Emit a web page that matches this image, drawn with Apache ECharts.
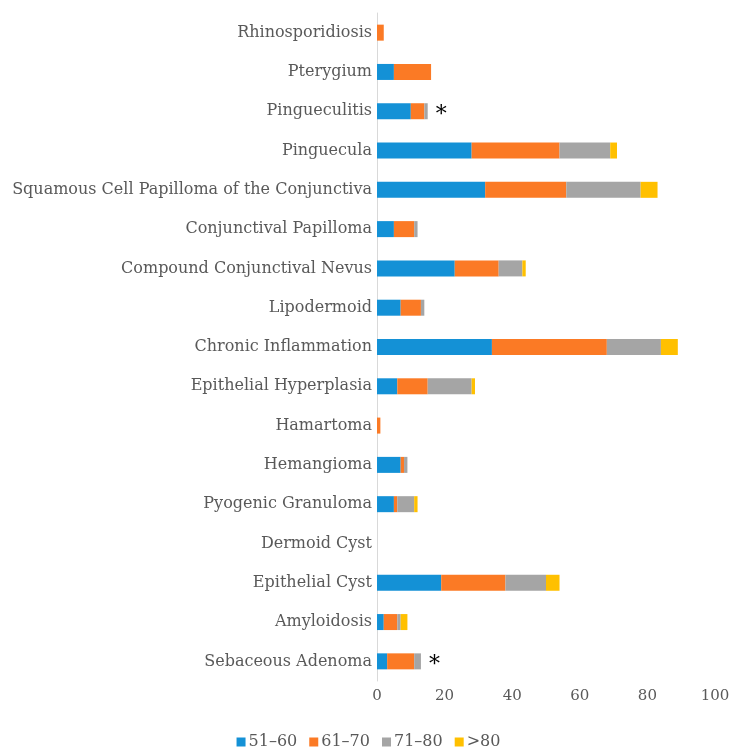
<!DOCTYPE html>
<html>
<head>
<meta charset="utf-8">
<script src="https://cdn.jsdelivr.net/npm/echarts@6/dist/echarts.min.js"></script>
<style>
  html, body { margin: 0; padding: 0; background: #ffffff; }
  #chart { width: 737px; height: 753px; }
</style>
</head>
<body>
<div id="chart"></div>
<script>
// Lesion types, listed top to bottom
const categories = [
  'Rhinosporidiosis',
  'Pterygium',
  'Pingueculitis',
  'Pinguecula',
  'Squamous Cell Papilloma of the Conjunctiva',
  'Conjunctival Papilloma',
  'Compound Conjunctival Nevus',
  'Lipodermoid',
  'Chronic Inflammation',
  'Epithelial Hyperplasia',
  'Hamartoma',
  'Hemangioma',
  'Pyogenic Granuloma',
  'Dermoid Cyst',
  'Epithelial Cyst',
  'Amyloidosis',
  'Sebaceous Adenoma'
];

// Case counts per age group
const age51to60 = [0, 5, 10, 28, 32, 5, 23, 7, 34, 6, 0, 7, 5, 0, 19, 2, 3];
const age61to70 = [2, 11, 4, 26, 24, 6, 13, 6, 34, 9, 1, 1, 1, 0, 19, 4, 8];
const age71to80 = [0, 0, 1, 15, 22, 1, 7, 1, 16, 13, 0, 1, 5, 0, 12, 1, 2];
const ageOver80 = [0, 0, 0, 2, 5, 0, 1, 0, 5, 1, 0, 0, 1, 0, 4, 2, 0];

const seriesNames = ['51–60', '61–70', '71–80', '>80'];
const xTicks = { min: 0, max: 100, interval: 20 };

// Categories flagged with an asterisk
const flagged = ['Pingueculitis', 'Sebaceous Adenoma'];

const colors = ['#1491D6', '#FB7A25', '#A5A5A5', '#FFC000'];
const textColor = '#595959';
const serif = '"DejaVu Serif", "Liberation Serif", serif';

const chart = echarts.init(document.getElementById('chart'), null, { renderer: 'canvas' });

function stackSeries(name, values, idx) {
  return {
    name: name,
    type: 'bar',
    stack: 'total',
    barWidth: 16,
    itemStyle: { color: colors[idx] },
    emphasis: { disabled: true },
    data: values.slice()
  };
}

const series = [
  stackSeries(seriesNames[0], age51to60, 0),
  stackSeries(seriesNames[1], age61to70, 1),
  stackSeries(seriesNames[2], age71to80, 2),
  stackSeries(seriesNames[3], ageOver80, 3)
];

// Asterisk drawn after the 71–80 segment of flagged rows
series[2].data = age71to80.map((v, i) => {
  if (flagged.indexOf(categories[i]) >= 0) {
    return {
      value: v,
      label: {
        show: true,
        position: 'right',
        distance: 8,
        formatter: '*',
        color: '#000000',
        fontSize: 22,
        fontFamily: serif,
        offset: [0, 4]
      }
    };
  }
  return v;
});

chart.setOption({
  animation: false,
  backgroundColor: '#ffffff',
  grid: { left: 377, right: 22, top: 13, bottom: 72, containLabel: false },
  legend: {
    bottom: -2,
    left: 'center',
    itemWidth: 9,
    itemHeight: 9,
    itemGap: 12,
    icon: 'rect',
    textStyle: { color: textColor, fontSize: 16, fontFamily: serif, padding: [0, 0, 0, -2] },
    data: seriesNames
  },
  xAxis: {
    type: 'value',
    min: xTicks.min,
    max: xTicks.max,
    interval: xTicks.interval,
    axisLine: { show: false },
    axisTick: { show: false },
    splitLine: { show: false },
    axisLabel: { color: textColor, fontSize: 15, fontFamily: serif, margin: 8 }
  },
  yAxis: {
    type: 'category',
    inverse: true,
    data: categories,
    axisLine: { show: true, lineStyle: { color: '#D9D9D9', width: 1 } },
    axisTick: { show: false },
    splitLine: { show: false },
    axisLabel: { color: textColor, fontSize: 16, fontFamily: serif, margin: 5 }
  },
  series: series
});
</script>
</body>
</html>
